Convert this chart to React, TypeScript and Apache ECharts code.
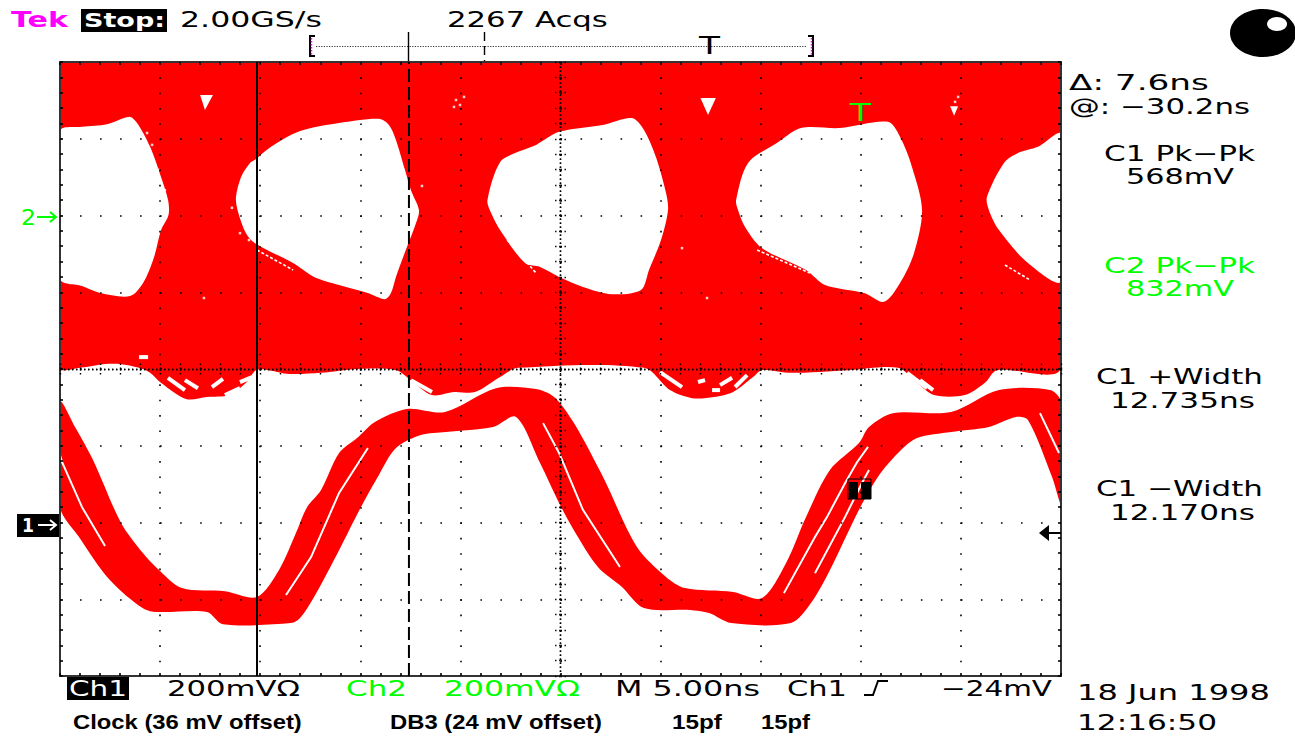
import React, { useEffect, useRef } from "react";
import * as echarts from "echarts";

type P = [number, number];

// Time is in ns (5 ns/div), level in mV (200 mV/div).
const ch2Envelope: P[] = [
  [0, 800], [50, 800], [50, 3], [46.8, -3], [46.2, -36], [45.2, -68], [43.66, -68], [42.81, -36], [41.86, 3],
  [39.41, -3], [36.51, -10], [35.06, -3], [34.62, -21], [33.62, -60], [32.67, -73], [31.57, -76], [30.47, -55],
  [29.17, 3], [22.88, 3], [21.98, -21], [20.73, -60], [19.68, -60], [18.58, -68], [17.53, -29], [16.78, -3],
  [14.84, 0], [13.04, -10], [11.44, -13], [10.39, -3], [9.79, -3], [9.29, -36], [8.44, -68], [7.34, -73],
  [6.29, -78], [5.04, -36], [4.5, -10], [3.95, 3], [3.0, 13], [2.25, 13], [1.0, 3], [0, 3],
];

const eye0: P[] = [
  [0, 620], [1.1, 631], [2.35, 638], [3.45, 657], [3.85, 641], [4.5, 579], [5.05, 500], [5.4, 440], [5.42, 401],
  [5.05, 362], [4.7, 292], [4.15, 224], [3.5, 190], [2.0, 198], [1.1, 216], [0, 235],
];
const eye1: P[] = [
  [9.74, 545], [10.54, 579], [11.99, 620], [13.94, 641], [15.93, 652], [16.43, 636], [16.78, 597], [17.23, 519],
  [17.53, 466], [17.93, 414], [17.78, 380], [17.33, 318], [16.78, 240], [16.53, 198], [16.23, 182], [15.38, 198],
  [13.94, 219], [12.69, 240], [11.64, 276], [9.74, 328], [9.29, 354], [8.87, 414], [8.79, 448], [9.04, 500], [9.49, 537],
];
const eye2: P[] = [
  [21.35, 440], [21.98, 539], [22.88, 566], [23.78, 584], [24.93, 618], [27.12, 636], [28.57, 654], [29.17, 623],
  [29.77, 552], [30.27, 459], [30.37, 414], [30.02, 336], [29.42, 258], [29.02, 206], [27.57, 195], [26.12, 214],
  [24.93, 240], [23.98, 266], [23.23, 276], [21.98, 362], [21.53, 407],
];
const eye3: P[] = [
  [33.77, 440], [34.37, 537], [35.81, 589], [37.01, 628], [38.96, 628], [41.36, 644], [41.96, 605], [42.56, 526],
  [43.06, 414], [42.66, 302], [41.96, 224], [41.16, 175], [40.16, 198], [38.21, 219], [37.26, 258], [35.06, 315],
  [34.22, 370], [33.87, 414],
];
const eye4: P[] = [
  [46.3, 448], [47.15, 537], [47.85, 563], [48.85, 579], [50, 612], [50, 229], [48.35, 276], [46.9, 362], [46.4, 414],
];
const ch2Holes: P[][] = [
  [[7.0, 714], [7.64, 714], [7.24, 675]],
  [[31.99, 706], [32.76, 706], [32.37, 662]],
  [[44.46, 685], [44.86, 685], [44.66, 660]],
];

const ch1Upper: P[] = [
  [0, -86], [0.75, -151], [1.65, -237], [3.05, -401], [4.15, -480], [4.85, -519], [6.09, -571], [8.24, -579],
  [9.84, -594], [10.94, -524], [11.79, -427], [12.34, -360], [13.04, -315], [13.94, -219], [14.84, -180],
  [15.73, -138], [17.33, -104], [19.23, -112], [21.78, -50], [23.78, -52], [24.68, -73], [25.67, -141],
  [27.12, -281], [28.82, -464], [30.27, -542], [31.22, -571], [33.62, -581], [35.06, -597], [36.26, -506],
  [37.26, -386], [38.46, -263], [39.91, -193], [40.41, -151], [41.61, -115], [44.51, -112], [46.9, -55],
  [49.45, -55], [50, -86],
];
const ch1Lower: P[] = [
  [50, -349], [49.55, -281], [48.35, -133], [47.75, -125], [46.4, -151], [44.51, -164], [42.81, -180], [41.86, -219],
  [40.86, -281], [39.91, -367], [38.46, -524], [37.51, -610], [36.51, -662], [33.52, -662], [32.42, -636],
  [31.47, -628], [29.17, -623], [28.07, -568], [26.87, -516], [25.67, -420], [24.93, -349], [23.98, -245],
  [22.78, -125], [21.63, -151], [19.28, -164], [18.03, -172], [16.78, -206], [15.93, -276], [15.03, -360],
  [13.94, -472], [12.69, -594], [11.99, -649], [11.54, -662], [8.14, -665], [7.34, -633], [4.5, -631],
  [3.45, -597], [2.2, -532], [0.95, -438], [0, -360],
];

const ch1Gaps: P[][] = [
  [[0, -225], [0.12, -245], [1.1, -360], [2.25, -461]],
  [[11.29, -589], [12.54, -490], [13.94, -323], [15.38, -206]],
  [[24.13, -141], [24.93, -219], [26.12, -367], [27.97, -516]],
  [[36.16, -584], [37.71, -438], [38.31, -386], [39.21, -298], [39.81, -243], [40.36, -203]],
  [[37.71, -532], [39.21, -386], [40.06, -297], [40.41, -263]],
  [[48.95, -115], [49.9, -219]],
];
const ch2Lattice: P[][] = [
  [[5.39, -23], [6.24, -55]], [[6.24, -29], [6.89, -50]], [[7.59, -47], [8.14, -26]], [[8.24, -68], [8.99, -50]],
  [[8.99, -34], [9.59, -21]], [[17.53, -29], [18.58, -60]], [[29.97, -8], [31.07, -47]], [[32.57, -55], [32.97, -55]],
  [[32.97, -42], [33.57, -23]], [[33.72, -47], [34.32, -16]], [[31.87, -34], [32.22, -29]], [[42.31, -10], [43.31, -50]],
  [[42.96, -29], [43.61, -55]], [[3.95, 31], [4.4, 31]],
];
const eyeEdgeStrands: P[][] = [
  [[9.84, 310], [11.64, 258]], [[22.33, 336], [23.78, 250]], [[34.82, 310], [37.46, 250]], [[47.2, 271], [48.45, 232]],
];
const speckles: P[] = [
  [4.35, 615], [4.6, 584], [4.9, 519], [5.24, 466], [7.19, 185], [18.08, 477], [31.07, 315], [32.32, 185],
  [44.86, 709], [44.71, 696], [20.18, 709], [19.78, 701], [19.68, 683], [19.98, 688], [8.59, 420], [8.99, 354], [9.44, 336],
];
const cursorTimes = [9.84, 17.43];

const tekLabel = "Tek";
const stopLabel = "Stop:";
const rateLabel = "2.00GS/s";
const acqsLabel = "2267 Acqs";
const deltaLabel = "Δ: 7.6ns";
const atLabel = "@: −30.2ns";
const c1PkPk = ["C1 Pk−Pk", "568mV"];
const c2PkPk = ["C2 Pk−Pk", "832mV"];
const c1Plus = ["C1 +Width", "12.735ns"];
const c1Minus = ["C1 −Width", "12.170ns"];
const ch1Scale = ["Ch1", "200mVΩ"];
const ch2Scale = ["Ch2", "200mVΩ"];
const timeBase = "M 5.00ns";
const trigger = ["Ch1", "−24mV"];
const stamp = ["18 Jun 1998", "12:16:50"];
const notes = ["Clock (36 mV offset)", "DB3 (24 mV offset)", "15pf", "15pf"];

const RED = "#ff0000";
const GREEN = "#00ff00";
const MAGENTA = "#ff00ff";
const DOT = "#000000";
const SCOPE_FONT = "DejaVu Sans";
const NOTE_FONT = "Liberation Sans";

const measureCtx = document.createElement("canvas").getContext("2d")!;

function label(text: string, left: number, right: number, cy: number, size: number, fill = "#000", weight = "normal", family = SCOPE_FONT) {
  measureCtx.font = `${weight} ${size}px "${family}"`;
  const w = measureCtx.measureText(text).width || 1;
  return {
    type: "text", x: left, y: cy, scaleX: (right - left) / w, z: 30, silent: true,
    style: { text, fill, fontSize: size, fontWeight: weight, fontFamily: family, align: "left", verticalAlign: "middle" },
  };
}
const stroke = (type: string, shape: any, color: string, lineWidth: number, lineDash?: number[]) => ({
  type, shape, z: 30, silent: true, style: { stroke: color, lineWidth, lineDash, fill: "none" },
});
const box = (x: number, y: number, width: number, height: number, fill: string) => ({
  type: "rect", shape: { x, y, width, height }, z: 29, silent: true, style: { fill },
});

const polygons = (polys: P[][], fill: string, z: number, smooth = 0) => ({
  type: "custom", coordinateSystem: "cartesian2d", z, silent: true, clip: true,
  data: polys.map((_, i) => [i]),
  renderItem: (params: any, api: any) => ({
    type: "polygon",
    shape: { points: polys[params.dataIndex].map((p) => api.coord(p)), smooth },
    style: { fill },
  }),
});
const strands = (polys: P[][], width: number, z: number, lineDash?: number[]) => ({
  type: "custom", coordinateSystem: "cartesian2d", z, silent: true, clip: true,
  data: polys.map((_, i) => [i]),
  renderItem: (params: any, api: any) => ({
    type: "polyline",
    shape: { points: polys[params.dataIndex].map((p) => api.coord(p)) },
    style: { stroke: "#fff", lineWidth: width, fill: "none", lineDash },
  }),
});
const cursor = (t: number, lineDash: any, idx: number) => ({
  type: "line", z: 8, silent: true, showSymbol: false, symbol: "none", clip: false,
  data: [[t, -800], [t, 800]],
  lineStyle: { color: "#000", width: 2, type: lineDash },
  name: `cursor${idx}`,
});

const axisBase = {
  type: "value", silent: true, z: 5, axisLabel: { show: false }, splitLine: { show: false },
};
const xScale = { min: 0, max: 50, interval: 5, minorTick: { show: true, splitNumber: 5 } };
const yScale = { min: -800, max: 800, interval: 200, minorTick: { show: true, splitNumber: 5 } };

const edgeAxis = (scale: any, position: string, splitDash?: number[]) => ({
  ...axisBase, ...scale, position,
  axisLine: { show: true, onZero: false, lineStyle: { color: "#333", width: 2 } },
  axisTick: { show: true, inside: true, length: 3, lineStyle: { color: DOT, width: 1.6 } },
  minorTick: { ...scale.minorTick, length: 3, lineStyle: { color: DOT, width: 1.6 } },
  splitLine: splitDash ? { show: true, lineStyle: { color: DOT, width: 1.6, type: splitDash, cap: "butt" } } : { show: false },
  minorSplitLine: { show: false },
});
const centreDots = { color: DOT, width: 1.4, type: [1.4, 2.6], cap: "butt" };
const centreAxis = (scale: any, position: string, offset: number, inside: boolean) => ({
  ...axisBase, ...scale, position, offset,
  axisLine: { show: true, onZero: false, lineStyle: centreDots },
  axisTick: { show: true, inside, length: 6, lineStyle: centreDots },
  minorTick: { ...scale.minorTick, length: 6, lineStyle: centreDots },
});

export default function App() {
  const ref = useRef<HTMLDivElement>(null);
  useEffect(() => {
    document.body.style.margin = "0";
    const chart = echarts.init(ref.current!, undefined, { renderer: "svg" });
    chart.setOption({
      animation: false,
      backgroundColor: "#fff",
      grid: { left: 60, top: 62, width: 1001, height: 614, containLabel: false, show: false },
      xAxis: [
        edgeAxis(xScale, "bottom", [1.6, 13.75]),
        edgeAxis(xScale, "top"),
        centreAxis(xScale, "bottom", -307, true),
        centreAxis(xScale, "bottom", -307, false),
      ],
      yAxis: [
        edgeAxis(yScale, "left", [1.6, 18.42]),
        edgeAxis(yScale, "right"),
        centreAxis(yScale, "left", -500.5, true),
        centreAxis(yScale, "left", -500.5, false),
      ],
      series: [
        polygons([ch2Envelope], RED, 1, 0.3),
        polygons([eye0, eye1, eye2, eye3, eye4], "#fff", 2, 0.3),
        polygons(ch2Holes, "#fff", 2),
        strands(ch2Lattice, 4, 2),
        strands(eyeEdgeStrands, 1.6, 2, [3, 2]),
        {
          type: "scatter", z: 2, silent: true, symbol: "rect", symbolSize: 2.5, data: speckles,
          itemStyle: { color: "#fff" },
        },
        polygons([[...ch1Upper, ...ch1Lower]], RED, 3, 0.3),
        strands(ch1Gaps, 2, 4),
        cursor(cursorTimes[0], "solid", 0),
        cursor(cursorTimes[1], [13, 5], 1),
      ],
      graphic: {
        elements: [
          label(tekLabel, 11, 68, 19, 22, MAGENTA, "bold"),
          box(81, 9, 86, 23, "#000"),
          label(stopLabel, 84, 165, 20, 20, "#fff", "bold"),
          label(rateLabel, 180, 322, 19, 22),
          label(acqsLabel, 447, 608, 19, 22),
          // record-view bracket and its cursors
          stroke("polyline", { points: [[315, 36], [310, 36], [310, 56], [315, 56]] }, "#000", 2),
          stroke("polyline", { points: [[808, 36], [813, 36], [813, 56], [808, 56]] }, "#000", 2),
          stroke("line", { x1: 311.5, y1: 38, x2: 311.5, y2: 55 }, MAGENTA, 1.5, [1.5, 1.5]),
          stroke("line", { x1: 811.5, y1: 38, x2: 811.5, y2: 55 }, MAGENTA, 1.5, [1.5, 1.5]),
          stroke("line", { x1: 316, y1: 46.5, x2: 807, y2: 46.5 }, "#333", 1.2, [1.2, 1.4]),
          stroke("line", { x1: 408.5, y1: 32, x2: 408.5, y2: 61 }, "#000", 1.4),
          stroke("line", { x1: 484.5, y1: 32, x2: 484.5, y2: 61 }, "#000", 1.4, [9, 5]),
          label("T", 699, 720, 45, 24),
          // readouts on the right
          label(deltaLabel, 1069, 1209, 82, 22),
          label(atLabel, 1069, 1250, 106, 22),
          label(c1PkPk[0], 1104, 1255, 153, 22),
          label(c1PkPk[1], 1126, 1234, 176, 22),
          label(c2PkPk[0], 1104, 1255, 265, 22, GREEN),
          label(c2PkPk[1], 1126, 1234, 288, 22, GREEN),
          label(c1Plus[0], 1096, 1263, 376, 22),
          label(c1Plus[1], 1110, 1255, 400, 22),
          label(c1Minus[0], 1096, 1263, 488, 22),
          label(c1Minus[1], 1110, 1255, 512, 22),
          // channel markers
          label("2", 21, 36, 217, 22, GREEN),
          stroke("line", { x1: 37, y1: 217, x2: 56, y2: 217 }, GREEN, 2),
          stroke("polyline", { points: [[50, 212], [56, 217], [50, 222]] }, GREEN, 2),
          box(17, 514, 42, 23, "#000"),
          label("1", 22, 34, 525, 19, "#fff", "bold"),
          stroke("line", { x1: 38, y1: 525, x2: 56, y2: 525 }, "#fff", 2),
          stroke("polyline", { points: [[50, 520], [56, 525], [50, 530]] }, "#fff", 2),
          // trigger level arrow
          { type: "polygon", z: 30, silent: true, shape: { points: [[1039, 533], [1049, 525], [1049, 541]] }, style: { fill: "#000" } },
          stroke("line", { x1: 1048, y1: 533, x2: 1061, y2: 533 }, "#000", 2),
          // trigger T and measurement marker
          label("T", 850, 871, 112, 24, GREEN),
          { type: "rect", z: 29, silent: true, shape: { x: 848, y: 479, width: 23, height: 20 }, style: { fill: "none", stroke: "#000", lineWidth: 1 } },
          box(849, 482, 9, 17, "#000"),
          box(861, 482, 10, 17, "#000"),
          // bottom readouts
          box(67, 677, 62, 23, "#000"),
          label(ch1Scale[0], 69, 127, 688, 22, "#fff"),
          label(ch1Scale[1], 167, 300, 688, 22),
          label(ch2Scale[0], 346, 407, 688, 22, GREEN),
          label(ch2Scale[1], 444, 580, 688, 22, GREEN),
          label(timeBase, 615, 760, 688, 22),
          label(trigger[0], 787, 847, 688, 22),
          stroke("polyline", { points: [[864, 695], [873, 695], [878, 681], [888, 681]] }, "#000", 2),
          label(trigger[1], 941, 1052, 688, 22),
          label(stamp[0], 1077, 1270, 692, 22),
          label(stamp[1], 1077, 1217, 722, 22),
          label(notes[0], 73, 302, 722, 21, "#000", "bold", NOTE_FONT),
          label(notes[1], 390, 602, 722, 21, "#000", "bold", NOTE_FONT),
          label(notes[2], 672, 722, 722, 21, "#000", "bold", NOTE_FONT),
          label(notes[3], 761, 810, 722, 21, "#000", "bold", NOTE_FONT),
          // acquisition-status disc
          { type: "ellipse", z: 28, silent: true, shape: { cx: 1263, cy: 33, rx: 33, ry: 24 }, style: { fill: "#000" } },
          { type: "ellipse", z: 29, silent: true, shape: { cx: 1277, cy: 24, rx: 10, ry: 7 }, style: { fill: "#fff" } },
        ],
      },
    });
    return () => chart.dispose();
  }, []);
  return <div ref={ref} style={{ position: "absolute", left: 0, top: 0, width: 1295, height: 738 }} />;
}
